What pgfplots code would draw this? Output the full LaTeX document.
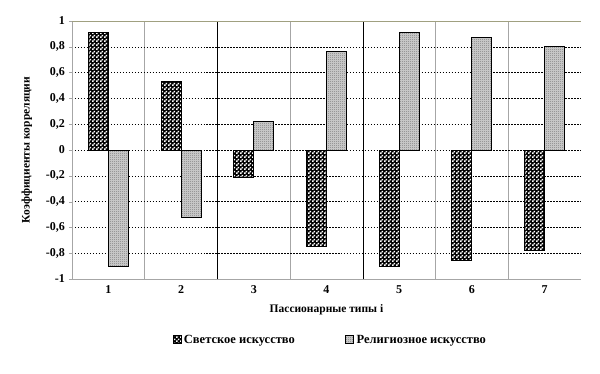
\documentclass[border=0pt]{standalone}
\usepackage{fontspec}
\setmainfont{Liberation Serif}
\usepackage{pgfplots}
\pgfplotsset{compat=1.18}
\usetikzlibrary{patterns}
\definecolor{olive}{RGB}{160,160,128}
\pgfdeclarepatternformonly{finecheck}{\pgfpointorigin}{\pgfqpoint{4bp}{4bp}}{\pgfqpoint{4bp}{4bp}}{%
  \pgfpathrectangle{\pgfqpoint{0.1bp}{0.1bp}}{\pgfqpoint{1.8bp}{1.8bp}}%
  \pgfpathrectangle{\pgfqpoint{2.1bp}{2.1bp}}{\pgfqpoint{1.8bp}{1.8bp}}%
  \pgfusepath{fill}}
\pgfdeclarepatternformonly{finedots}{\pgfpointorigin}{\pgfqpoint{2bp}{2bp}}{\pgfqpoint{2bp}{2bp}}{%
  \pgfpathrectangle{\pgfpointorigin}{\pgfqpoint{1bp}{1bp}}%
  \pgfusepath{fill}}
\begin{document}
\fontsize{11.5bp}{13bp}\selectfont\bfseries
\begin{tikzpicture}
\begin{axis}[
  scale only axis, width=509bp, height=258bp,
  xmin=0.5, xmax=7.5, ymin=-1, ymax=1,
  axis x line*=bottom, axis y line*=left,
  axis line style={gray!70},
  xtick={1,...,7}, minor xtick={1.5,2.5,...,6.5},
  xminorgrids=true, minor x grid style={gray!70, solid, line width=0.6pt},
  xtick style={draw=none}, minor tick length=0pt,
  ytick={-1,-0.8,-0.6,-0.4,-0.2,0,0.2,0.4,0.6,0.8,1},
  ytick pos=left, tick align=outside, major tick length=3bp,
  ytick style={gray!70},
  ymajorgrids=true, major y grid style={black, dash pattern=on 1.5pt off 1.5pt, line width=0.5pt},
  /pgf/number format/assume math mode=true,
  /pgf/number format/use comma, /pgf/number format/fixed, /pgf/number format/precision=1,
  ticklabel style={font=\fontsize{12bp}{14bp}\selectfont\bfseries},
  xlabel={Пассионарные типы i},
  ylabel={Коэффициенты корреляции},
  xlabel style={at={(axis description cs:0.5,0)}, anchor=north, yshift=-21bp, font=\fontsize{11.5bp}{13bp}\selectfont\bfseries},
  ylabel style={font=\fontsize{11.5bp}{13bp}\selectfont\bfseries, at={(axis description cs:0,0.5)}, anchor=south, yshift=36bp},
  ybar=0pt, bar width=0.275,
  legend columns=2,
  legend style={draw=none, at={(0.508,-0.236)}, anchor=center, font=\fontsize{12.5bp}{14bp}\selectfont\bfseries,
    nodes={inner xsep=2.5bp},
    /tikz/every even column/.append style={column sep=48bp}},
  legend image code/.code={\draw[#1, line width=0.8pt] (0bp,-4bp) rectangle (8bp,4bp);},
]
\addplot[draw=black, line width=1pt, fill=black, postaction={pattern=finecheck, pattern color=white}, bar shift=-0.1375]
  coordinates {(1,0.91) (2,0.53) (3,-0.21) (4,-0.75) (5,-0.90) (6,-0.86) (7,-0.78)};
\addplot[draw=black, line width=1pt, fill=gray!45, postaction={pattern=finedots, pattern color=gray!70!black}, bar shift=0.1375]
  coordinates {(1,-0.90) (2,-0.52) (3,0.22) (4,0.76) (5,0.91) (6,0.87) (7,0.80)};
\legend{Светское искусство, Религиозное искусство}
\draw[black, line width=0.6pt] (axis cs:2.5,-1) -- (axis cs:2.5,1);
\draw[black, line width=0.6pt] (axis cs:4.5,-1) -- (axis cs:4.5,1);
\draw[olive, line width=1pt] (rel axis cs:0,1) -- (rel axis cs:1,1);
\draw[gray!50, line width=0.8pt] (rel axis cs:1,0) -- (rel axis cs:1,1);
\end{axis}
\path (-72bp,-95bp) rectangle (528bp,279bp);
\end{tikzpicture}
\end{document}
